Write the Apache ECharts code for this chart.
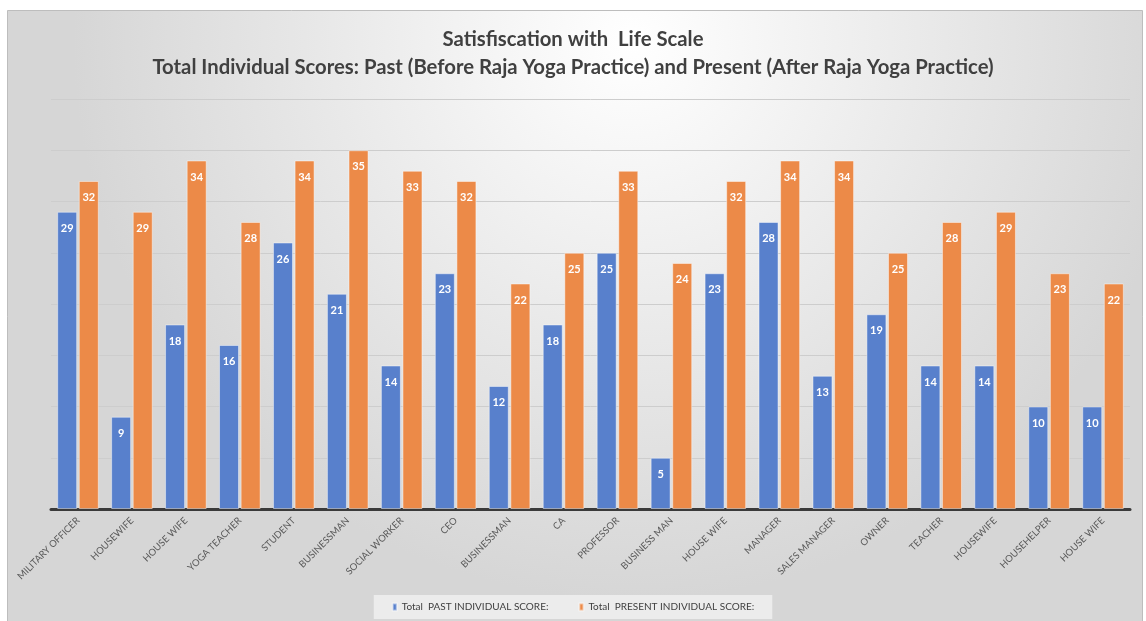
<!DOCTYPE html>
<html>
<head>
<meta charset="utf-8">
<script src="https://cdn.jsdelivr.net/npm/echarts@6/dist/echarts.min.js"></script>
<style>
  html, body { margin: 0; padding: 0; background: #fff; }
  #chart { width: 1146px; height: 621px; }
</style>
</head>
<body>
<div id="chart"></div>
<script>
const categories = ["MILITARY OFFICER", "HOUSEWIFE", "HOUSE WIFE", "YOGA TEACHER", "STUDENT",
  "BUSINESSMAN", "SOCIAL WORKER", "CEO", "BUSINESSMAN", "CA", "PROFESSOR", "BUSINESS MAN",
  "HOUSE WIFE", "MANAGER", "SALES MANAGER", "OWNER", "TEACHER", "HOUSEWIFE", "HOUSEHELPER", "HOUSE WIFE"];
const pastScores = [29, 9, 18, 16, 26, 21, 14, 23, 12, 18, 25, 5, 23, 28, 13, 19, 14, 14, 10, 10];
const presentScores = [32, 29, 34, 28, 34, 35, 33, 32, 22, 25, 33, 24, 32, 34, 34, 25, 28, 29, 23, 22];
const seriesNames = ["Total  PAST INDIVIDUAL SCORE:", "Total  PRESENT INDIVIDUAL SCORE:"];
const titleLines = ["Satisfiscation with  Life Scale",
  "Total Individual Scores: Past (Before Raja Yoga Practice) and Present (After Raja Yoga Practice)"];

const font = "Lato, 'Open Sans', sans-serif";

function barLabel() {
  return {
    show: true,
    position: "insideTop",
    distance: 11,
    color: "#fff",
    fontWeight: "bold",
    fontSize: 11,
    fontFamily: font,
  };
}

function titleLine(text, top) {
  return {
    text: text,
    left: "center",
    top: top,
    textStyle: { color: "#404040", fontSize: 20.3, fontWeight: "bold", fontFamily: font },
  };
}

const chart = echarts.init(document.getElementById("chart"));
chart.setOption({
  animation: false,
  graphic: [
    {
      type: "rect",
      z: -10,
      silent: true,
      shape: { x: 7.5, y: 10.5, width: 1135, height: 620 },
      style: {
        fill: {
          type: "radial", x: 0.55, y: 0.05, r: 0.9,
          colorStops: [
            { offset: 0, color: "#ffffff" },
            { offset: 1, color: "#d6d6d6" },
          ],
        },
        stroke: "#bdbdbd",
        lineWidth: 1,
      },
    },
  ],
  title: [titleLine(titleLines[0], 24), titleLine(titleLines[1], 52)],
  legend: {
    bottom: 2,
    left: "center",
    itemWidth: 4,
    itemHeight: 7,
    itemGap: 30,
    padding: [7, 18, 7, 18],
    backgroundColor: "rgba(238,238,238,0.9)",
    icon: "rect",
    textStyle: { color: "#404040", fontSize: 10, fontFamily: font },
  },
  grid: { left: 51, right: 16, top: 99, bottom: 112 },
  xAxis: {
    type: "category",
    data: categories,
    axisLine: { lineStyle: { color: "#3a3a3a", width: 3 } },
    axisTick: { show: false },
    axisLabel: {
      rotate: 45,
      interval: 0,
      color: "#595959",
      fontSize: 9.5,
      fontFamily: font,
      margin: 10,
    },
  },
  yAxis: {
    type: "value",
    min: 0,
    max: 40,
    interval: 5,
    axisLabel: { show: false },
    axisLine: { show: false },
    axisTick: { show: false },
    splitLine: { lineStyle: { color: "#cdcdcd", width: 1 } },
  },
  series: [
    {
      name: seriesNames[0],
      type: "bar",
      data: pastScores,
      barWidth: 20,
      barGap: "8%",
      itemStyle: { color: "#5880cc", borderColor: "rgba(255,255,255,0.45)", borderWidth: 1 },
      label: barLabel(),
    },
    {
      name: seriesNames[1],
      type: "bar",
      data: presentScores,
      barWidth: 20,
      itemStyle: { color: "#ec8a48", borderColor: "rgba(255,255,255,0.45)", borderWidth: 1 },
      label: barLabel(),
    },
  ],
});
</script>
</body>
</html>
